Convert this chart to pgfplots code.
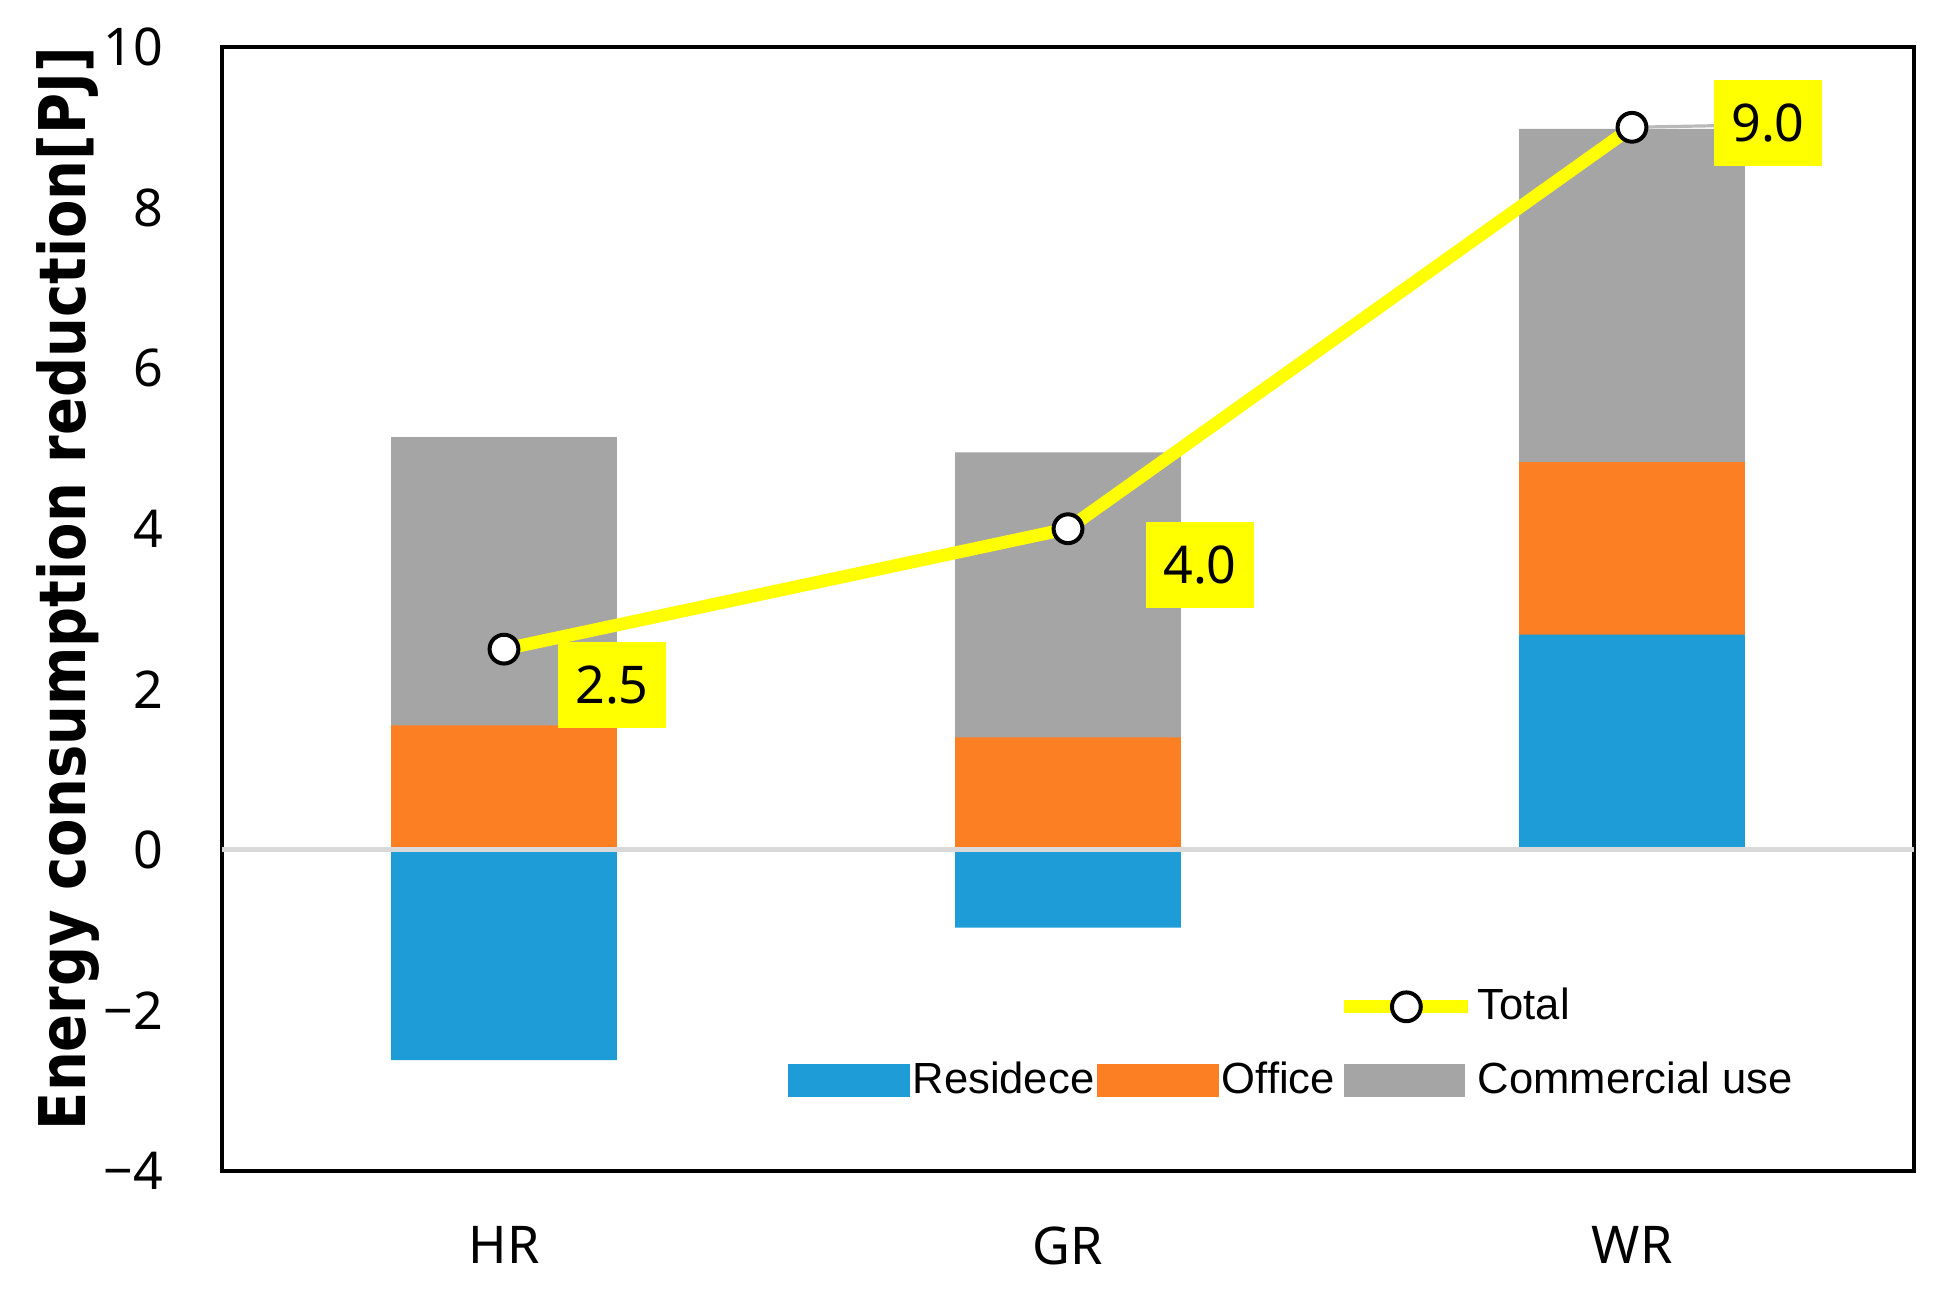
\documentclass[border=0pt]{standalone}
\usepackage{fontspec}
\setmainfont{Noto Sans}
\newfontfamily\legfont{Liberation Sans}
\newfontfamily\labfont{DejaVu Sans}
\usepackage{pgfplots}
\pgfplotsset{compat=1.18}
\usepackage{pgfplotstable}
\definecolor{resblue}{HTML}{1E9CD7}
\definecolor{offorange}{HTML}{FD7F24}
\definecolor{comgray}{HTML}{A5A5A5}
\definecolor{zerogray}{HTML}{D9D9D9}
\definecolor{totyellow}{HTML}{FFFF00}

\pgfplotstableread{
x res off com total dx dy
0 -2.62 1.55 3.59 2.5 27 -9
1 -0.97 1.40 3.55 4.0 33 -9
2 2.68 2.15 4.15 9.0 34 1
}\datatable

\begin{document}
\begin{tikzpicture}
\begin{axis}[
  name=ax,
  scale only axis, width=423pt, height=281pt,
  xmin=-0.5, xmax=2.5, ymin=-4, ymax=10,
  xtick={0,1,2}, xticklabels={HR,GR,WR},
  ytick={-4,-2,0,2,4,6,8,10},
  yticklabels={−4,−2,0,2,4,6,8,10},
  major tick length=0pt,
  axis line style={line width=1pt},
  tick label style={font=\fontsize{13}{13}\selectfont},
  yticklabel style={inner sep=0pt, anchor=east, xshift=-14.5pt},
  xticklabel style={inner sep=0pt, anchor=north, yshift=-13.7pt},
  ylabel={\scalebox{1}[1.15]{Energy consumption reduction[PJ]}},
  ylabel style={font=\labfont\bfseries\fontsize{14}{14}\selectfont, at={(ticklabel cs:0.518)}, anchor=south, inner sep=1pt},
  /pgf/number format/assume math mode=true,
  legend columns=3,
  legend cell align=left,
  legend style={at={(rel axis cs:0.334,0.0605)}, anchor=south west, draw=none, fill=none, inner sep=0pt,
    column sep=0pt, row sep=7.5pt, font=\legfont\fontsize{10.9}{11}\selectfont, nodes={inner sep=0.75pt}},
]
\addlegendimage{empty legend}\addlegendentry{}
\addlegendimage{empty legend}\addlegendentry{}
\addlegendimage{legend image code/.code={\draw[totyellow, line width=3.2pt] (0pt,0pt) -- (31pt,0pt); \draw[black, fill=white, line width=1pt] (15.5pt,0pt) circle (3.6pt);}}\addlegendentry{Total}
\addlegendimage{legend image code/.code={\fill[resblue] (0pt,-3.85pt) rectangle (30pt,3.85pt);}}\addlegendentry{Residece}
\addlegendimage{legend image code/.code={\fill[offorange] (0pt,-3.85pt) rectangle (30pt,3.85pt);}}\addlegendentry{Office}
\addlegendimage{legend image code/.code={\fill[comgray] (0pt,-3.85pt) rectangle (30pt,3.85pt);}}\addlegendentry{Commercial use}

% bars: positive parts stacked by hand (Excel stacks signs separately)
\addplot[ybar, bar width=0.4, bar shift=0pt, fill=comgray, draw=none, forget plot]
  table[x=x, y expr={max(\thisrow{res},0)+\thisrow{off}+\thisrow{com}}] {\datatable};
\addplot[ybar, bar width=0.4, bar shift=0pt, fill=offorange, draw=none, forget plot]
  table[x=x, y expr={max(\thisrow{res},0)+\thisrow{off}}] {\datatable};
\addplot[ybar, bar width=0.4, bar shift=0pt, fill=resblue, draw=none, forget plot]
  table[x=x, y=res] {\datatable};

\addplot[zerogray, line width=1.3pt, forget plot] coordinates {(-0.5,0) (2.5,0)};

\draw[gray!55, line width=0.8pt] (axis cs:2,9) -- ++(21pt,0.4pt);

\addplot[totyellow, line width=3.2pt, mark=*, mark size=3.6pt,
  mark options={draw=black, fill=white, line width=1pt},
  point meta=explicit,
  visualization depends on={\thisrow{dx} \as \dx},
  visualization depends on={\thisrow{dy} \as \dy},
  nodes near coords={\pgfmathprintnumber[fixed,fixed zerofill,precision=1]{\pgfplotspointmeta}},
  every node near coord/.append style={font=\fontsize{13}{13}\selectfont, fill=totyellow, text=black,
    inner sep=0pt, minimum width=27pt, minimum height=21.5pt, anchor=center, xshift=\dx pt, yshift=\dy pt},
  forget plot]
  table[x=x, y=total, meta=total] {\datatable};
\end{axis}
\pgfresetboundingbox
\path ([shift={(-55.5pt,-29.3pt)}]ax.south west) rectangle ([shift={(5.5pt,11.75pt)}]ax.north east);
\end{tikzpicture}
\end{document}
